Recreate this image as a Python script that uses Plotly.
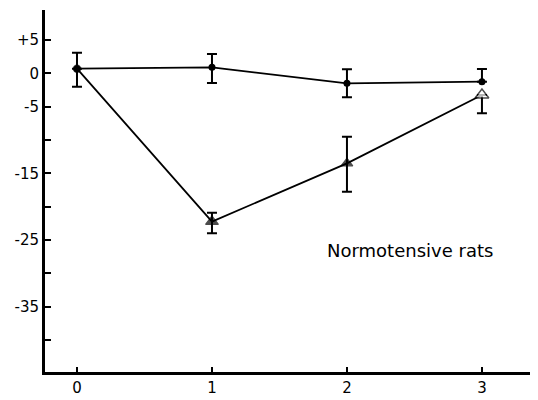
import plotly.graph_objects as go

# Data
days = [0, 1, 2, 3]
control_mean = [0.7, 0.9, -1.5, -1.25]
control_err_up = [2.4, 2.0, 2.1, 1.9]
control_err_down = [2.7, 2.35, 2.1, 0.0]

treated_mean = [0.7, -22.25, -13.5, -3.25]
treated_err_up = [0.0, 1.35, 4.0, 0.0]
treated_err_down = [0.0, 1.75, 4.25, 2.75]

y_tickvals = [5, 0, -5, -10, -15, -20, -25, -30, -35, -40]
y_ticktext = ["+5", "0", "-5", "", "-15", "", "-25", "", "-35", ""]
x_tickvals = [0, 1, 2, 3]
x_ticktext = ["0", "1", "2", "3"]
label_text = "Normotensive rats"

fig = go.Figure()

fig.add_trace(go.Scatter(
    x=days, y=treated_mean, mode="lines+markers",
    line=dict(color="black", width=1.8),
    marker=dict(symbol=["circle", "triangle-up", "triangle-up", "triangle-up"],
                size=[7, 11, 10, 12],
                color=["black", "black", "black", "white"],
                line=dict(color="black", width=1.4)),
    error_y=dict(type="data", symmetric=False, array=treated_err_up,
                 arrayminus=treated_err_down, color="black", thickness=2, width=5),
    showlegend=False,
))

fig.add_trace(go.Scatter(
    x=days, y=control_mean, mode="lines+markers",
    line=dict(color="black", width=1.8),
    marker=dict(symbol="circle", size=7, color="black"),
    error_y=dict(type="data", symmetric=False, array=control_err_up,
                 arrayminus=control_err_down, color="black", thickness=2, width=5),
    showlegend=False,
))

fig.add_annotation(x=2.47, y=-26.6, text=label_text, showarrow=False,
                   font=dict(size=18, color="black", family="DejaVu Sans"),
                   xanchor="center", yanchor="middle")

fig.update_layout(
    width=522, height=392,
    margin=dict(l=37, r=0, t=2, b=28, autoexpand=False),
    plot_bgcolor="white", paper_bgcolor="white",
    font=dict(family="DejaVu Sans", color="black", size=15),
)

fig.update_xaxes(range=[-0.237, 3.356], tickvals=x_tickvals, ticktext=x_ticktext,
                 showgrid=False, zeroline=False, showline=True, linewidth=3,
                 linecolor="black", ticks="inside", ticklen=5, tickwidth=1.5,
                 tickcolor="black", tickfont=dict(size=15), automargin=False)
fig.update_yaxes(range=[-44.8, 9.5], tickvals=y_tickvals, ticktext=y_ticktext,
                 showgrid=False, zeroline=False, showline=True, linewidth=3,
                 linecolor="black", ticks="inside", ticklen=6, tickwidth=2,
                 tickcolor="black", tickfont=dict(size=15), automargin=False)

fig.write_html("out.html")
